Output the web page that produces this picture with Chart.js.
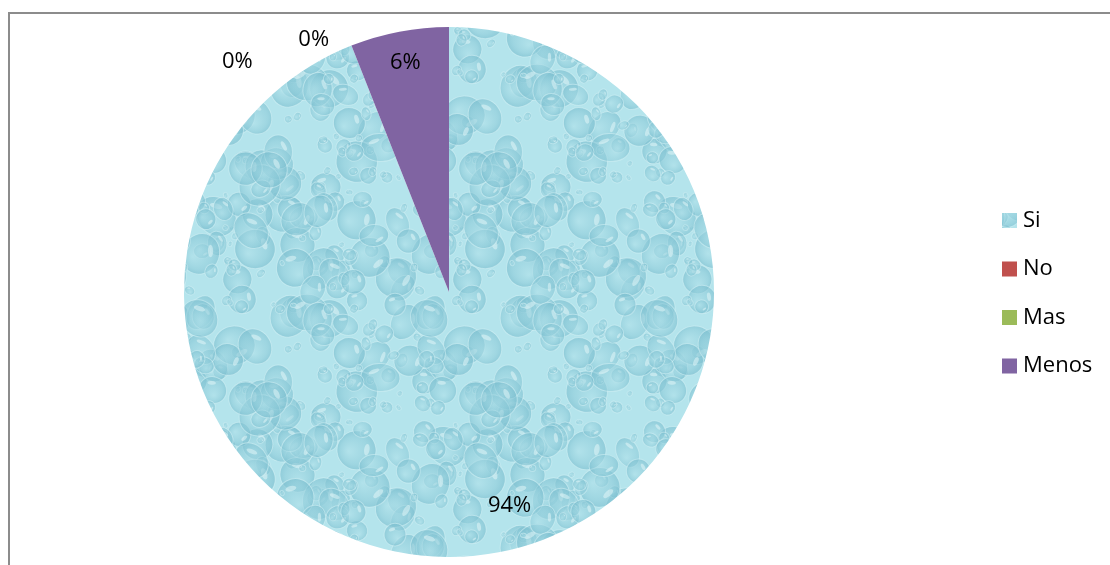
<!DOCTYPE html>
<html>
<head>
<meta charset="utf-8">
<script src="https://cdn.jsdelivr.net/npm/chart.js@4/dist/chart.umd.min.js"></script>
<style>
    html, body { margin: 0; padding: 0; background: #fff; overflow: hidden; }
    #frame {
        position: absolute; left: 8px; top: 12px; width: 1110px; height: 600px;
        border-top: 2px solid #8c8c8c; border-left: 2px solid #8c8c8c;
    }
    #pieChart { position: absolute; left: 0; top: 0; }
</style>
</head>
<body>
<div id="frame"></div>
<canvas id="pieChart" width="1110" height="565"></canvas>
<script>
// --- DATA ---
const categories = ['Si', 'No', 'Mas', 'Menos'];
const percentValues = [94, 0, 0, 6];

const FONT = '22px "Open Sans", "Noto Sans", sans-serif';

// small seeded generator so the droplet texture is the same on every load
function makeRng(seed) {
    let s = seed;
    return () => {
        s = (s * 1664525 + 1013904223) % 4294967296;
        return s / 4294967296;
    };
}

// --- WATER DROPLET TEXTURE for the "Si" slice ---
function buildDropletPattern() {
    const size = 230;
    const tile = document.createElement('canvas');
    tile.width = size;
    tile.height = size;
    const g = tile.getContext('2d');
    g.fillStyle = '#b4e4ec';
    g.fillRect(0, 0, size, size);

    const rnd = makeRng(11);
    const drops = [];
    for (let i = 0; i < 170; i++) {
        const r = 2.5 + Math.pow(rnd(), 1.8) * 19;
        drops.push({ x: rnd() * size, y: rnd() * size, rx: r, ry: r * (0.7 + rnd() * 0.35), rot: rnd() * Math.PI });
    }

    const drawDrop = (d, ox, oy) => {
        g.save();
        g.translate(d.x + ox, d.y + oy);
        g.rotate(d.rot);
        const grad = g.createRadialGradient(d.rx * 0.3, d.ry * 0.3, 0, 0, 0, d.rx);
        grad.addColorStop(0, 'rgba(175,224,233,0.55)');
        grad.addColorStop(0.7, 'rgba(140,202,216,0.55)');
        grad.addColorStop(1, 'rgba(120,188,205,0.6)');
        g.fillStyle = grad;
        g.beginPath();
        g.ellipse(0, 0, d.rx, d.ry, 0, 0, Math.PI * 2);
        g.fill();
        g.strokeStyle = 'rgba(214,242,246,0.55)';
        g.lineWidth = 1;
        g.stroke();
        // highlight
        g.fillStyle = 'rgba(240,252,253,0.45)';
        g.beginPath();
        g.ellipse(-d.rx * 0.35, -d.ry * 0.4, d.rx * 0.3, d.ry * 0.14, -0.5, 0, Math.PI * 2);
        g.fill();
        g.restore();
    };

    drops.forEach(d => {
        for (const ox of [-size, 0, size]) {
            for (const oy of [-size, 0, size]) drawDrop(d, ox, oy);
        }
    });
    return g.createPattern(tile, 'repeat');
}

const dropletFill = buildDropletPattern();
const sliceColors = [dropletFill, '#C0504D', '#9BBB59', '#8064A2'];

// --- PERCENT LABELS (best-fit style placement) ---
const sliceLabels = {
    id: 'sliceLabels',
    afterDatasetsDraw(chart, args, opts) {
        const ctx = chart.ctx;
        const meta = chart.getDatasetMeta(0);
        const values = chart.data.datasets[0].data;
        ctx.save();
        ctx.font = FONT;
        ctx.fillStyle = '#000';
        ctx.textAlign = 'center';
        ctx.textBaseline = 'middle';
        meta.data.forEach((arc, i) => {
            const p = opts.placement[i];
            const mid = (arc.startAngle + arc.endAngle) / 2 + p.shift * Math.PI / 180;
            const dist = arc.outerRadius * p.radial;
            ctx.fillText(values[i] + '%', arc.x + Math.cos(mid) * dist, arc.y + Math.sin(mid) * dist);
        });
        ctx.restore();
    }
};

// --- LEGEND drawn at the right of the frame ---
const sideLegend = {
    id: 'sideLegend',
    afterDraw(chart, args, opts) {
        const ctx = chart.ctx;
        const ds = chart.data.datasets[0];
        ctx.save();
        ctx.font = FONT;
        ctx.textBaseline = 'middle';
        chart.data.labels.forEach((label, i) => {
            const y = opts.top + i * opts.step;
            ctx.fillStyle = ds.backgroundColor[i];
            ctx.fillRect(opts.left, y - opts.box / 2, opts.box, opts.box);
            ctx.fillStyle = '#000';
            ctx.fillText(label, opts.left + opts.box + 6, y);
        });
        ctx.restore();
    }
};

new Chart(document.getElementById('pieChart'), {
    type: 'pie',
    data: {
        labels: categories,
        datasets: [{
            data: percentValues,
            backgroundColor: sliceColors,
            borderWidth: 0
        }]
    },
    options: {
        responsive: false,
        animation: false,
        layout: { padding: { left: 184, right: 396, top: 27, bottom: 8 } },
        plugins: {
            legend: { display: false },
            tooltip: { enabled: false },
            sliceLabels: {
                placement: [
                    { radial: 0.84, shift: -5 },
                    { radial: 1.18, shift: -21 },
                    { radial: 1.08, shift: -6.6 },
                    { radial: 0.88, shift: 0 }
                ]
            },
            sideLegend: { left: 1002, top: 220.5, step: 48.5, box: 15 }
        }
    },
    plugins: [sliceLabels, sideLegend]
});
</script>
</body>
</html>
